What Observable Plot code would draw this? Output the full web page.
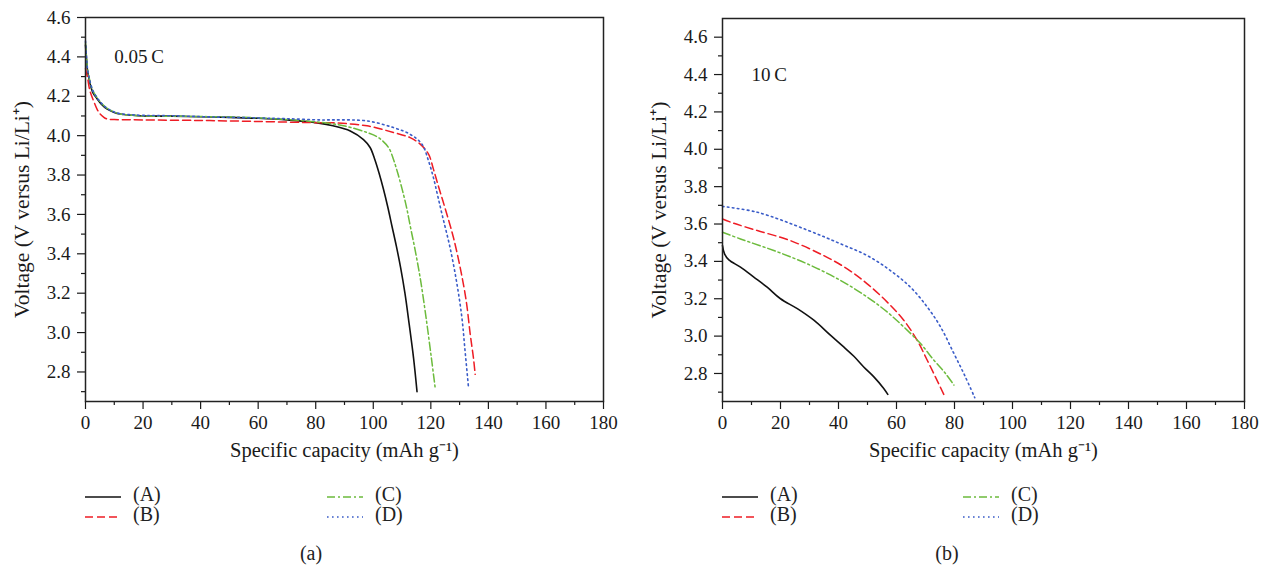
<!DOCTYPE html>
<html><head><meta charset="utf-8">
<script src="https://cdn.jsdelivr.net/npm/d3@7"></script>
<script src="https://cdn.jsdelivr.net/npm/@observablehq/plot@0.6"></script>
<style>
body{margin:0;background:#fff;font-family:"Liberation Serif",serif;}
#wrap{position:relative;width:1265px;height:569px;overflow:hidden;background:#fff;}
.panel{position:absolute;top:0;}
.sw{position:absolute;}
.lt{position:absolute;font-size:20px;color:#222;line-height:20px;transform:translateY(-50%);}
.cap{position:absolute;font-size:20px;color:#222;transform:translate(-50%,-50%);}
</style></head><body><div id="wrap"></div>
<script>
// ---- data ----
const seriesNames = ["(A)", "(B)", "(C)", "(D)"];
const xTicks = [0, 20, 40, 60, 80, 100, 120, 140, 160, 180];
const xMinor = [10, 30, 50, 70, 90, 110, 130, 150, 170];
const yTicks = [2.8, 3.0, 3.2, 3.4, 3.6, 3.8, 4.0, 4.2, 4.4, 4.6];
const yMinor = [2.7, 2.9, 3.1, 3.3, 3.5, 3.7, 3.9, 4.1, 4.3, 4.5];
const xLabel = "Specific capacity (mAh g\u207B\u00B9)";
const yLabel = "Voltage (V versus Li/Li\u207A)";
const rateA = [{text: "0.05\u2009C", x: 10, y: 4.4}];
const rateB = [{text: "10\u2009C", x: 10, y: 4.4}];
const captions = ["(a)", "(b)"];

// panel (a) 0.05 C
const a_A = [[0,4.46],[0.3,4.40],[0.7,4.33],[1.5,4.27],[2.5,4.22],[3.9,4.19],[5.5,4.16],[7.4,4.136],[10,4.118],[12,4.11],[16,4.104],[20,4.10],[30,4.099],[40,4.096],[50,4.093],[60,4.088],[70,4.08],[80,4.066],[86,4.05],[92,4.024],[96.6,3.98],[98.9,3.94],[100.5,3.88],[102,3.81],[103.5,3.73],[105,3.64],[106.5,3.54],[108,3.44],[109.5,3.33],[111,3.2],[112.5,3.04],[114,2.87],[115.2,2.70]];
const a_B = [[0,4.34],[0.3,4.32],[0.7,4.295],[1.5,4.23],[2.8,4.177],[4,4.135],[5.1,4.11],[6.2,4.095],[7.4,4.085],[10,4.082],[20,4.08],[40,4.077],[60,4.072],[80,4.066],[86.2,4.065],[97.8,4.05],[107,4.016],[112.8,3.99],[116.3,3.957],[119.2,3.906],[120.9,3.83],[122.5,3.75],[124.2,3.668],[126,3.58],[127.9,3.48],[130.2,3.33],[132.3,3.16],[133.7,2.99],[134.8,2.872],[135.4,2.788]];
const a_C = [[0,4.47],[0.3,4.41],[0.7,4.34],[1.5,4.28],[2.5,4.23],[3.9,4.195],[5.5,4.165],[7.4,4.14],[10,4.12],[12,4.11],[16,4.104],[20,4.10],[30,4.099],[40,4.097],[50,4.095],[60,4.09],[70,4.082],[80,4.07],[89.7,4.05],[97.8,4.016],[101.8,3.99],[105.3,3.94],[107,3.88],[108.5,3.81],[110,3.73],[111.5,3.64],[113,3.53],[114.6,3.415],[116.5,3.26],[118.4,3.07],[120.2,2.87],[121.5,2.72]];
const a_D = [[0,4.48],[0.3,4.41],[0.7,4.34],[1.5,4.28],[2.5,4.23],[3.9,4.195],[5.5,4.165],[7.4,4.14],[10,4.12],[12,4.112],[16,4.106],[20,4.103],[30,4.101],[44,4.095],[60,4.09],[70,4.086],[81.6,4.08],[86.2,4.08],[97.8,4.075],[107,4.041],[112.8,4.007],[116.9,3.957],[119.2,3.872],[120.9,3.787],[122.3,3.70],[123.9,3.60],[126.7,3.43],[129.1,3.245],[130.8,3.075],[131.9,2.906],[133.1,2.72]];

// panel (b) 10 C
const b_A = [[0,3.485],[0.7,3.44],[2.2,3.408],[6.2,3.369],[10.8,3.316],[15.4,3.262],[20,3.2],[25.8,3.147],[31.5,3.085],[37.2,3.005],[41.8,2.942],[45.3,2.892],[48.7,2.835],[52.2,2.782],[55.6,2.72],[57,2.688]];
const b_B = [[0,3.627],[3.9,3.604],[12,3.565],[23.4,3.511],[34.9,3.431],[43,3.36],[49.9,3.28],[56.8,3.182],[62.5,3.085],[67.1,2.978],[70.6,2.871],[73.4,2.782],[76.3,2.688]];
const b_C = [[0,3.556],[6.2,3.52],[17.7,3.458],[29.2,3.387],[40.7,3.298],[49.9,3.209],[56.8,3.129],[62.5,3.049],[68.3,2.96],[72.9,2.871],[76.9,2.8],[79.8,2.738]];
const b_D = [[0,3.694],[12,3.663],[29.2,3.568],[40.7,3.494],[49.9,3.431],[57.9,3.351],[64.8,3.262],[70.6,3.156],[75.2,3.049],[79.8,2.907],[83.5,2.79],[87,2.67]];

// ---- styles ----
const styles = [
  {stroke: "#111111", dash: null, width: 1.6},
  {stroke: "#ee1c24", dash: "8,4", width: 1.5},
  {stroke: "#6cbb3c", dash: "8,3,2,3", width: 1.5},
  {stroke: "#3a5cc8", dash: "1.6,3.4", width: 1.6}
];

function panel(series, yDomain, rate, width, ml, mr, mt) {
  const lines = series.map((s, i) => Plot.line(s, {
    x: d => d[0], y: d => d[1], stroke: styles[i].stroke,
    strokeWidth: styles[i].width, strokeDasharray: styles[i].dash, curve: "catmull-rom"
  }));
  return Plot.plot({
    width, height: 470, marginLeft: ml, marginRight: mr, marginTop: mt, marginBottom: 69,
    style: {fontFamily: "Liberation Serif", fontSize: "19px", color: "#1a1a1a", background: "transparent", overflow: "visible"},
    x: {domain: [0, 180]},
    y: {domain: yDomain},
    marks: [
      Plot.axisX(xMinor, {tickSize: 4, tickFormat: () => "", label: null, strokeWidth: 1.2}),
      Plot.axisX(xTicks, {tickSize: 8, tickPadding: 6, tickFormat: d => String(d), label: null, strokeWidth: 1.2, fontSize: 19}),
      Plot.axisY(yMinor, {tickSize: 4, tickFormat: () => "", label: null, strokeWidth: 1.2}),
      Plot.axisY(yTicks, {tickSize: 8, tickPadding: 7, tickFormat: d3.format(".1f"), label: null, strokeWidth: 1.2, fontSize: 19}),
      ...lines,
      Plot.frame({stroke: "#222", strokeWidth: 1.5}),
      Plot.text(rate, {x: "x", y: "y", text: "text", textAnchor: "start", fontSize: 19}),
      Plot.text([xLabel], {frameAnchor: "bottom", dy: 55, text: d => d, textAnchor: "middle", fontSize: 20.5}),
      Plot.text([yLabel], {frameAnchor: "left", dx: -63, rotate: -90, text: d => d, textAnchor: "middle", lineAnchor: "middle", fontSize: 21.5})
    ]
  });
}

const wrap = document.getElementById("wrap");
const p1 = panel([a_A, a_B, a_C, a_D], [2.65, 4.6], rateA, 640, 85, 37, 17);
p1.classList.add("panel"); p1.style.left = "0px";
wrap.appendChild(p1);
const p2 = panel([b_A, b_B, b_C, b_D], [2.65, 4.7], rateB, 625, 82, 21, 18);
p2.classList.add("panel"); p2.style.left = "640px";
wrap.appendChild(p2);

// ---- legends (below the plots) ----
function legend(x0, x1, rowYs) {
  const cols = [x0, x0, x1, x1];
  const rows = [rowYs[0], rowYs[1], rowYs[0], rowYs[1]];
  seriesNames.forEach((name, i) => {
    const svgNS = "http://www.w3.org/2000/svg";
    const sv = document.createElementNS(svgNS, "svg");
    sv.setAttribute("width", 36); sv.setAttribute("height", 6);
    sv.setAttribute("class", "sw");
    sv.style.left = cols[i] + "px"; sv.style.top = (rows[i] - 3) + "px";
    const ln = document.createElementNS(svgNS, "line");
    ln.setAttribute("x1", 0); ln.setAttribute("x2", 36); ln.setAttribute("y1", 3); ln.setAttribute("y2", 3);
    ln.setAttribute("stroke", styles[i].stroke);
    ln.setAttribute("stroke-width", styles[i].width);
    if (styles[i].dash) ln.setAttribute("stroke-dasharray", styles[i].dash);
    sv.appendChild(ln);
    wrap.appendChild(sv);
    const t = document.createElement("div");
    t.className = "lt"; t.textContent = name;
    t.style.left = (cols[i] + 48) + "px"; t.style.top = (rows[i] - 3) + "px";
    wrap.appendChild(t);
  });
}
legend(85, 327, [497, 517]);
legend(722, 963, [497, 517]);

[[captions[0], 311], [captions[1], 947]].forEach(([c, x]) => {
  const d = document.createElement("div");
  d.className = "cap"; d.textContent = c;
  d.style.left = x + "px"; d.style.top = "553px";
  wrap.appendChild(d);
});
</script>
</body></html>
